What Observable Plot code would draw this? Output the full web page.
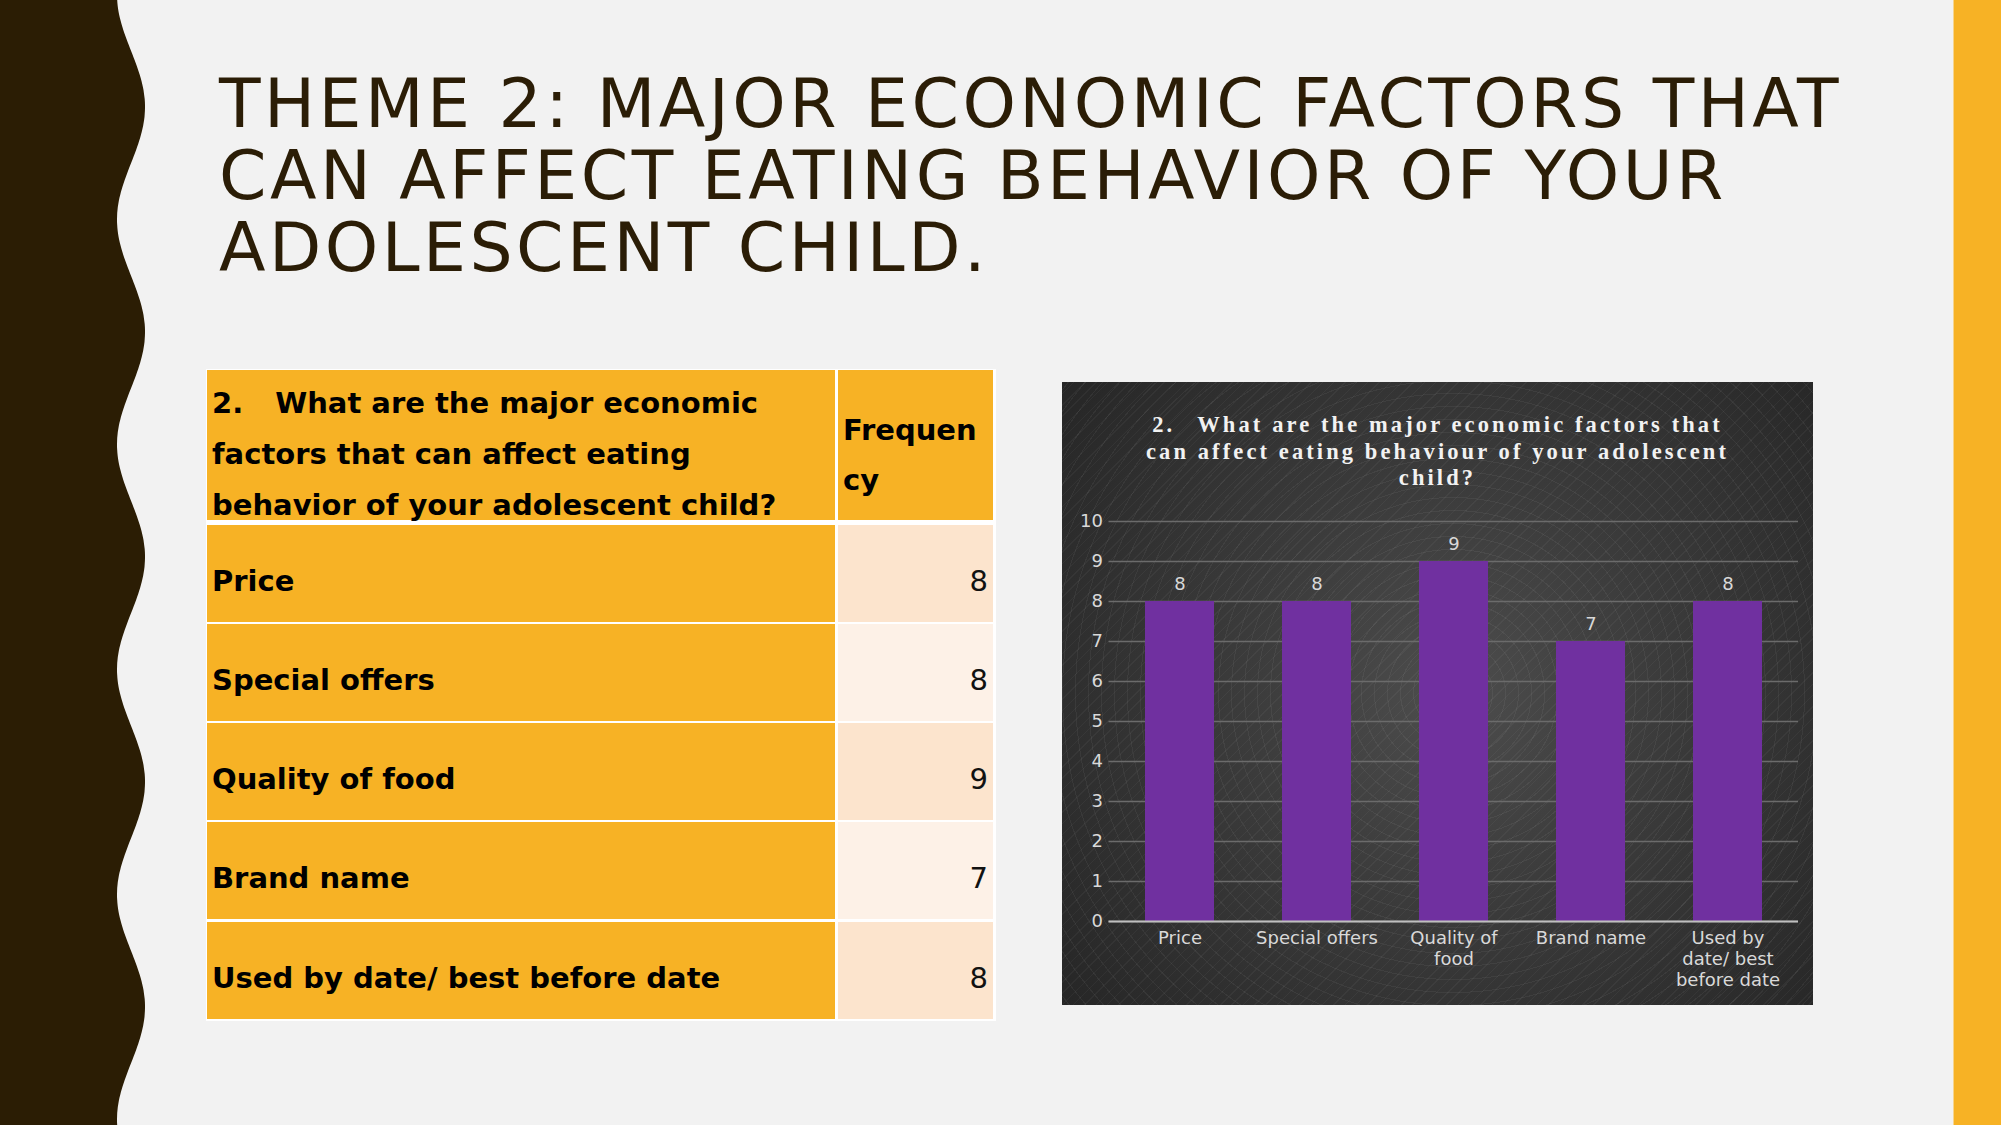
<!DOCTYPE html>
<html>
<head>
<meta charset="utf-8">
<script src="https://cdn.jsdelivr.net/npm/d3@7"></script>
<script src="https://cdn.jsdelivr.net/npm/@observablehq/plot@0.6"></script>
<style>
  html, body { margin: 0; padding: 0; }
  body {
    width: 2001px; height: 1125px; background: #f2f2f2; position: relative; overflow: hidden;
    font-family: "DejaVu Sans", sans-serif;
  }
  #wave { position: absolute; left: 0; top: 0; }
  #stripe {
    position: absolute; left: 1953px; top: 0; width: 48px; height: 1125px;
    background: #F7B225; border-left: 1px solid #f6d58e; box-sizing: border-box;
  }
  #slideTitle {
    position: absolute; left: 219px; top: 68px; white-space: nowrap;
    font-family: "DejaVu Sans", sans-serif; font-size: 68px; line-height: 72px;
    letter-spacing: 3.45px; color: #2B1D06;
  }
  #table { position: absolute; left: 206px; top: 369px; width: 790px; height: 652px; background: #ffffff; }
  .cell { position: absolute; box-sizing: border-box; color: #000; font-size: 29px; white-space: nowrap; }
  .lab { background: #F7B225; font-weight: bold; padding-left: 5px; }
  .num { text-align: right; padding-right: 5px; font-weight: normal; color: #111; }
  #chartBox {
    position: absolute; left: 1062px; top: 382px; width: 751px; height: 623px; overflow: hidden;
    background:
      repeating-linear-gradient(135deg, rgba(255,255,255,0.04) 0 1px, transparent 1px 8px),
      repeating-radial-gradient(circle at 391px 311px, rgba(255,255,255,0.05) 0 1px, transparent 1px 13px),
      radial-gradient(circle at 391px 311px, #4d4d4d 0%, #3c3c3c 40%, #262626 100%);
  }
  #chartTitle {
    position: absolute; left: 0; top: 30px; width: 751px; text-align: center;
    font-family: "Liberation Serif", "Times New Roman", serif; font-weight: bold;
    font-size: 22.5px; line-height: 26.5px; letter-spacing: 3.1px; color: #f2f2f2; white-space: nowrap;
  }
  #plot { position: absolute; left: 0; top: 0; }
</style>
</head>
<body>
<svg id="wave" width="200" height="1125"></svg>
<div id="stripe"></div>
<div id="slideTitle"></div>
<div id="table"></div>
<div id="chartBox">
  <div id="chartTitle"></div>
  <div id="plot"></div>
</div>
<script>
// ---------- data ----------
const categories = ["Price", "Special offers", "Quality of food", "Brand name", "Used by date/ best before date"];
const frequencies = [8, 8, 9, 7, 8];
const xTickLabels = ["Price", "Special offers", "Quality of\nfood", "Brand name", "Used by\ndate/ best\nbefore date"];
const yTicks = [0, 1, 2, 3, 4, 5, 6, 7, 8, 9, 10];
const slideTitleLines = ["THEME 2: MAJOR ECONOMIC FACTORS THAT", "CAN AFFECT EATING BEHAVIOR OF YOUR", "ADOLESCENT CHILD."];
const chartTitleLines = ["2.", "What are the major economic factors that", "can affect eating behaviour of your adolescent", "child?"];
const tableHeaderLines = ["2.", "What are the major economic", "factors that can affect eating", "behavior of your adolescent child?"];
const tableFreqHeaderLines = ["Frequen", "cy"];

// ---------- decorative wavy border ----------
(function () {
  const pts = [];
  for (let y = 0; y <= 1125; y += 3) {
    pts.push([131 - 14 * Math.cos(2 * Math.PI * (y + 5.5) / 225), y]);
  }
  const d = "M0,0 " + pts.map(p => "L" + p[0].toFixed(1) + "," + p[1]).join(" ") + " L0,1125 Z";
  const p = document.createElementNS("http://www.w3.org/2000/svg", "path");
  p.setAttribute("d", d);
  p.setAttribute("fill", "#2B1D04");
  document.getElementById("wave").appendChild(p);
})();

// ---------- slide title ----------
document.getElementById("slideTitle").innerHTML = slideTitleLines.join("<br>");

// ---------- table ----------
(function () {
  const t = document.getElementById("table");
  const leftX = 1, leftW = 628, rightX = 632, rightW = 155;
  function add(x, y, w, h, cls, html, padTop, lh, bg) {
    const c = document.createElement("div");
    c.className = "cell " + cls;
    c.style.left = x + "px"; c.style.top = y + "px";
    c.style.width = w + "px"; c.style.height = h + "px";
    c.style.paddingTop = padTop + "px"; c.style.lineHeight = lh + "px";
    if (bg) c.style.background = bg;
    c.innerHTML = html;
    t.appendChild(c);
  }
  const headerHtml = tableHeaderLines[0] + '<span style="display:inline-block;width:32px"></span>' +
    tableHeaderLines.slice(1).join("<br>");
  add(leftX, 1, leftW, 150, "lab", headerHtml, 8, 51);
  add(rightX, 1, rightW, 150, "lab", tableFreqHeaderLines.join("<br>"), 35, 50);
  const rowTops = [156, 255, 354, 453, 552.5];
  const peach = ["#FCE4CD", "#FDF1E7"];
  categories.forEach((cat, i) => {
    add(leftX, rowTops[i], leftW, 97, "lab", cat, 42, 28);
    add(rightX, rowTops[i], rightW, 97, "num", String(frequencies[i]), 42, 28, peach[i % 2]);
  });
})();

// ---------- chart title ----------
document.getElementById("chartTitle").innerHTML =
  chartTitleLines[0] + '<span style="display:inline-block;width:22px"></span>' +
  chartTitleLines.slice(1).join("<br>");

// ---------- chart ----------
const data = categories.map((c, i) => ({ category: c, value: frequencies[i] }));
const labelMap = new Map(categories.map((c, i) => [c, xTickLabels[i]]));

const chart = Plot.plot({
  width: 751,
  height: 623,
  marginTop: 139,
  marginBottom: 84,
  marginLeft: 46.5,
  marginRight: 15,
  style: { background: "transparent", color: "#d9d9d9", fontFamily: "DejaVu Sans", fontSize: "18px" },
  x: { domain: categories, paddingInner: 0.5, paddingOuter: 0.25, label: null },
  y: { domain: [0, 10], label: null },
  marks: [
    Plot.gridY(yTicks, { stroke: "#6b6b6b", strokeOpacity: 1, strokeWidth: 1.4 }),
    Plot.barY(data, { x: "category", y: "value", fill: "#7030A0" }),
    Plot.ruleY([0], { stroke: "#bfbfbf", strokeWidth: 2 }),
    Plot.text(data, { x: "category", y: "value", text: d => String(d.value), dy: -17, fill: "#d9d9d9", fontSize: 18 }),
    Plot.axisY(yTicks, { tickSize: 0, tickPadding: 6, fontSize: 18, fill: "#d9d9d9", label: null }),
    Plot.axisX({ tickSize: 0, tickPadding: 7, fontSize: 18, lineHeight: 1.18, fill: "#d9d9d9",
                 tickFormat: d => labelMap.get(d), label: null })
  ]
});
document.getElementById("plot").appendChild(chart);
</script>
</body>
</html>
